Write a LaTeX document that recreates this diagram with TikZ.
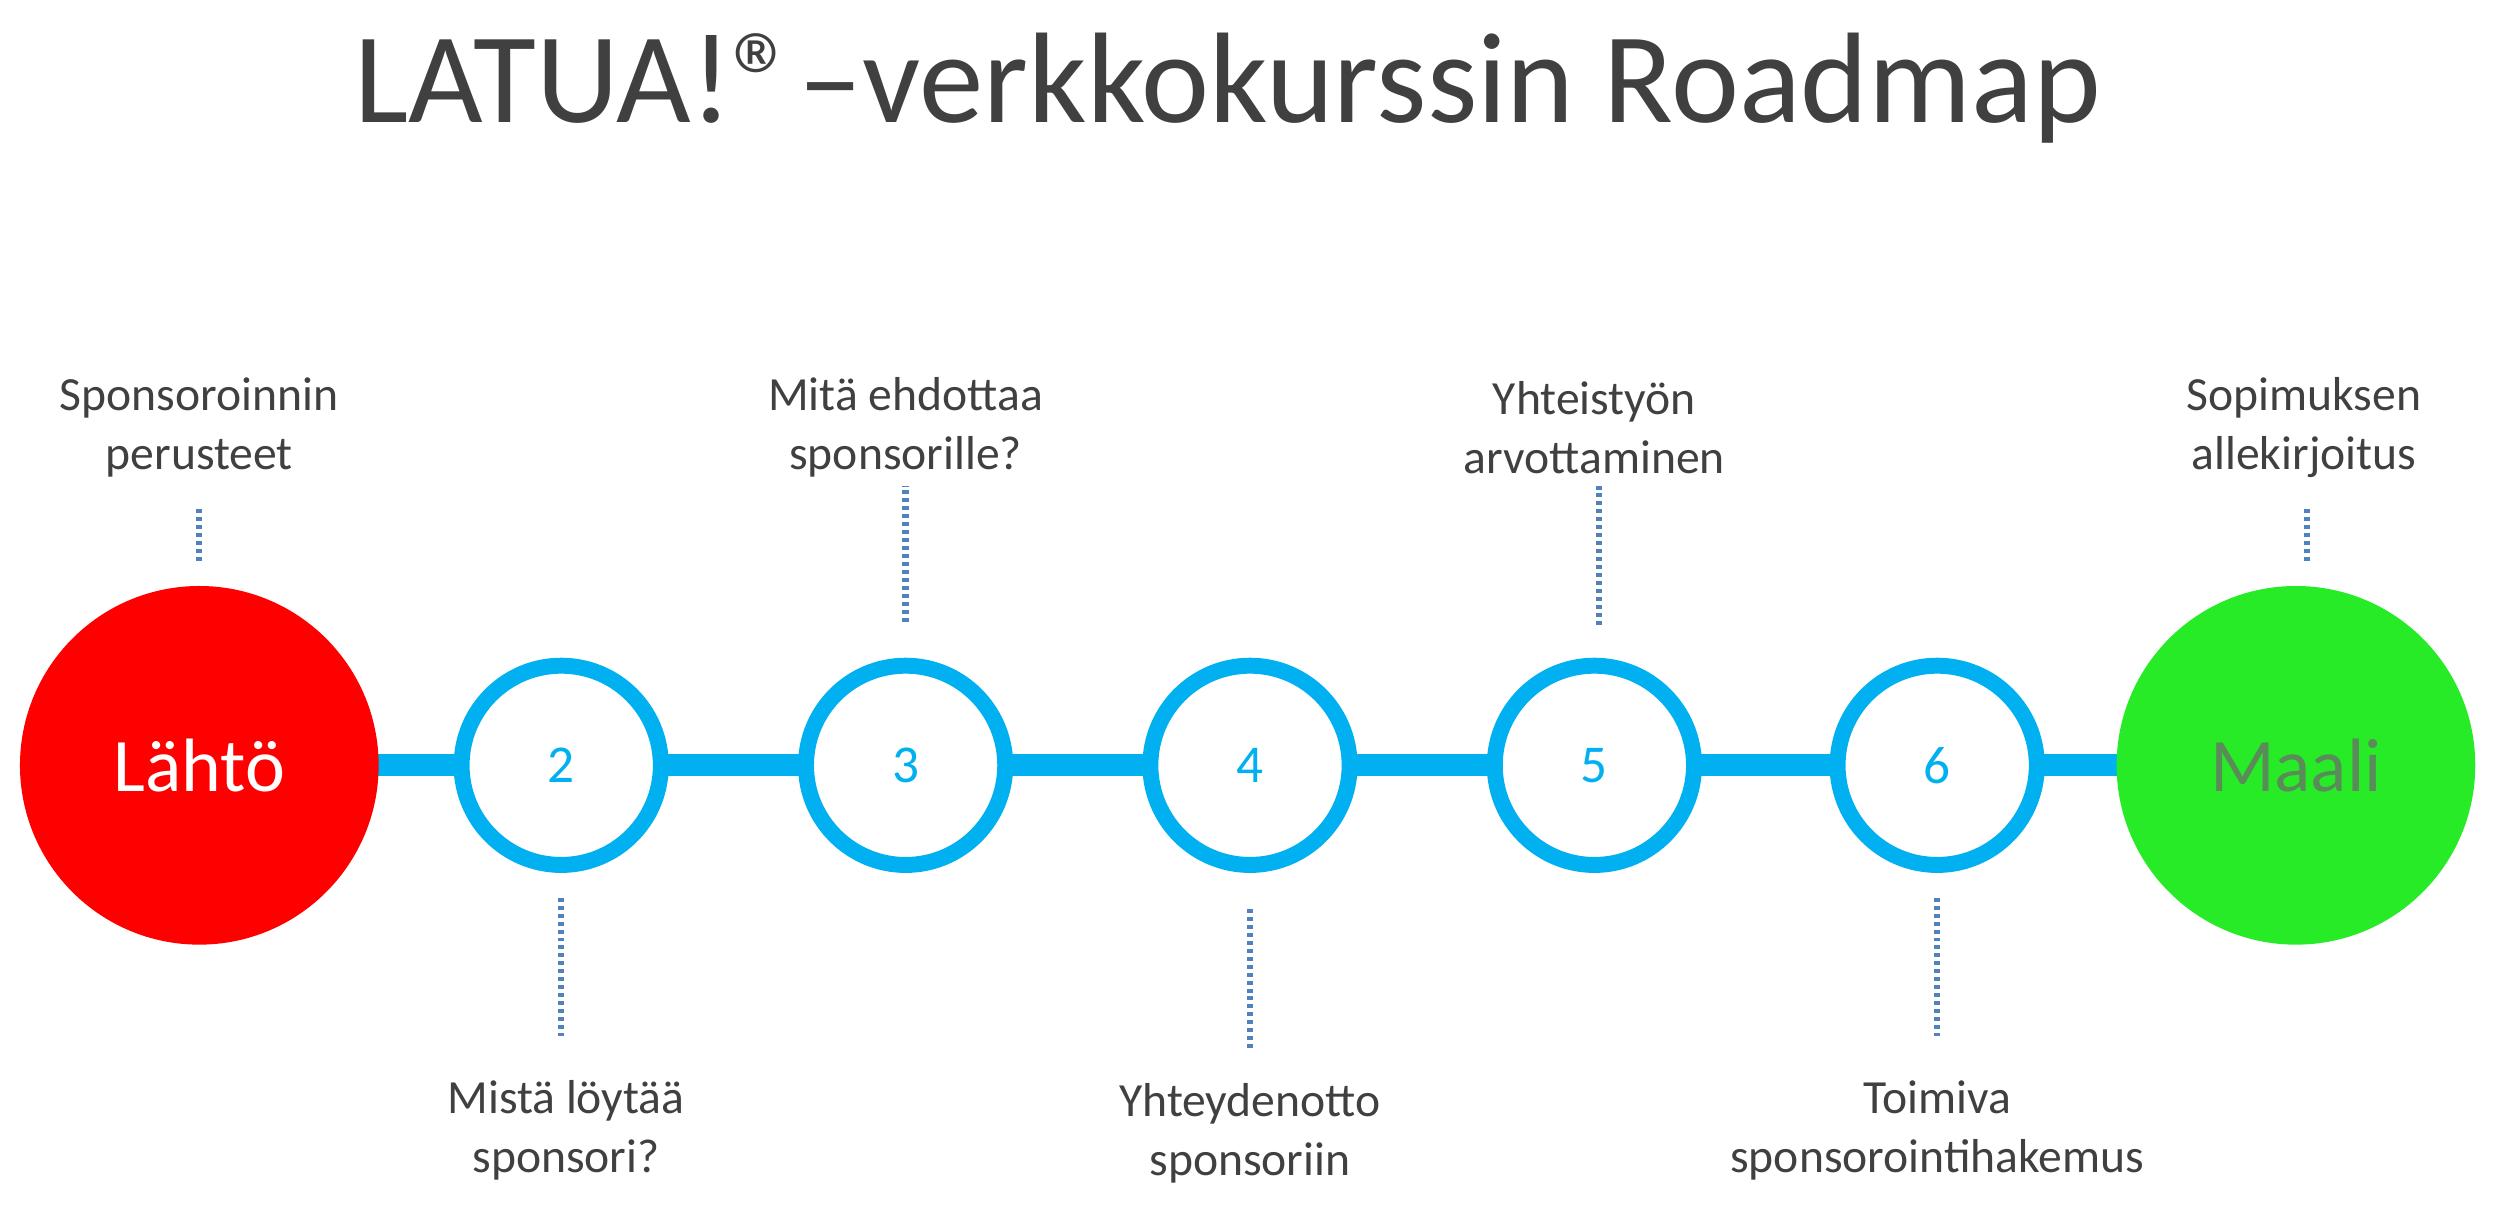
\documentclass[tikz,border=0pt]{standalone}
\usepackage{fontspec}
\setmainfont{Carlito}
\usetikzlibrary{positioning}
\definecolor{lineblue}{RGB}{0,176,240}
\definecolor{dotblue}{RGB}{80,130,190}
\definecolor{startred}{RGB}{255,0,0}
\definecolor{goalgreen}{RGB}{40,235,40}
\definecolor{goaltext}{RGB}{90,140,90}
\definecolor{titlegray}{RGB}{64,64,64}
\begin{document}
\begin{tikzpicture}[x=0.02cm,y=-0.02cm,
  stepnode/.style={circle,draw=lineblue,line width=0.2cm,fill=white,minimum size=2.5cm,
    text=lineblue,font=\fontsize{19}{22}\selectfont},
  bignode/.style={circle,minimum size=4.5cm,font=\fontsize{27}{30}\selectfont},
  label/.style={align=center,text=titlegray,font=\fontsize{17}{21}\selectfont},
  dots/.style={dotblue,line width=0.08cm,dash pattern=on 0.05cm off 0.05cm}]
  \useasboundingbox (0,0) rectangle (1568,768);
  % Title
  \node[text=titlegray,font=\fontsize{46}{50}\selectfont] (title) at (770,55) {LATUA!®–verkkokurssin Roadmap};
  % Line
  \draw[lineblue,line width=0.28cm] (125,480) -- (1440,480);
  % Nodes
  \node[bignode,fill=startred,text=white] (start) at (125,480) {Lähtö};
  \node[bignode,fill=goalgreen,text=goaltext] (goal) at (1440,480) {Maali};
  \foreach \n/\x in {2/352,3/568,4/784,5/1000,6/1215}
    \node[stepnode] (s\n) at (\x,480) {\n};
  % Labels above
  \node[label] (lstart) at (125,268) {Sponsoroinnin\\perusteet};
  \node[label] (l3) at (568,268) {Mitä ehdottaa\\sponsorille?};
  \node[label] (l5) at (1000,268) {Yhteistyön\\arvottaminen};
  \node[label] (lgoal) at (1445,268) {Sopimuksen\\allekirjoitus};
  % Labels below
  \node[label] (l2) at (355,709) {Mistä löytää\\sponsori?};
  \node[label] (l4) at (784,711) {Yhteydenotto\\sponsoriin};
  \node[label] (l6) at (1215,709) {Toimiva\\sponsorointihakemus};
  % Dotted connectors
  \coordinate (dstart) at (125,352);
  \coordinate (d3) at (568,390);
  \coordinate (d5) at (1003,392);
  \coordinate (dgoal) at (1447,352);
  \coordinate (d2) at (352,563);
  \coordinate (d4) at (784,570);
  \coordinate (d6) at (1215,563);
  \draw[dots] (dstart) -- ++(0,-34);
  \draw[dots] (d3) -- ++(0,-85);
  \draw[dots] (d5) -- ++(0,-87);
  \draw[dots] (dgoal) -- ++(0,-34);
  \draw[dots] (d2) -- ++(0,87);
  \draw[dots] (d4) -- ++(0,87);
  \draw[dots] (d6) -- ++(0,87);
\end{tikzpicture}
\end{document}
